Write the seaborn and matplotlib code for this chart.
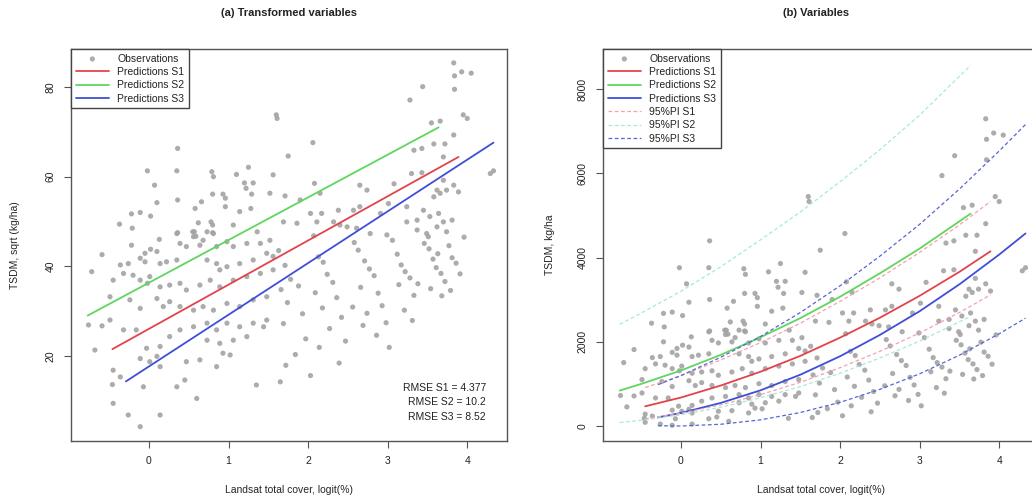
import numpy as np
import pandas as pd
import seaborn as sns
import matplotlib.pyplot as plt

# ---------------- data ----------------
obs_cover = [
    1.60, 0.36, -0.02, 0.35, 1.25, 0.79, 0.81, 0.07, 1.10, 1.20, 1.31, 1.22, 1.29, 1.56, 1.52,
    0.93, 0.96, 0.80, 0.10, 0.36, 0.66, 0.58, 0.96, 1.14, 1.28, -0.22, -0.11, 0.02, -0.37, -0.21,
    0.62, 0.78, 0.80, 1.06, 0.36, 0.55, 0.73, 0.80, 0.56, 1.36,
    -0.22, 0.13, 0.35, 0.59, 0.57, 0.68, 0.81, -0.59, -0.05, 0.02, 0.10, -0.11, -0.05, -0.72,
    -0.36, -0.26, -0.32, 0.14, 0.22, 0.35, 0.39, 0.47, 0.64, 0.85, 0.98, 1.06, 1.23, 1.40, 1.52,
    0.73, 0.85, 0.89, 0.98, 1.14, 1.31, 1.48, 1.56, -0.45, -0.20, -0.11, 0.01, -0.02, 0.14, 0.26,
    0.39, 0.47, 0.64, 0.77, 0.89, 1.06, 1.23, 1.40, 1.56, -0.49, -0.24, -0.11, 0.10, 0.26, 0.39,
    0.18, 0.56, 0.68, 0.81, 0.98, 1.14, 1.31, 1.48, -0.76, -0.59, -0.49, -0.32, -0.16, -0.03, 0.14,
    0.10, 0.26, 0.39, 0.56, 0.73, 0.85, 0.98, 1.14, 1.31, 1.48, -0.68, -0.45, -0.36, -0.11, 0.01,
    0.14, 0.47, 0.64, 0.85, 0.93, 1.02, 0.73, 0.89, 1.06, 1.23, -0.46, -0.07, 0.35, 0.45, 0.60,
    1.35, 1.65, -0.45, -0.26, 0.14, -0.11, 1.44,
    3.83, 3.93, 4.05, 3.84, 3.84, 3.44, 3.28, 1.61, 3.55, 3.66, 3.95, 4.00, 2.06, 3.83, 1.75,
    3.33, 3.43, 3.58, 3.72, 3.70, 4.29, 4.33, 2.08, 2.15, 1.71, 2.65, 2.74, 3.08, 3.30, 3.43,
    3.70, 3.83, 3.89, 3.74, 1.90, 2.03, 2.17, 2.38, 2.57, 2.65, 2.91, 3.01, 3.24, 3.45, 3.62,
    3.58, 3.66, 1.69, 1.86, 2.11, 2.32, 2.40, 2.49, 2.61, 3.24, 3.37, 3.53, 3.64, 3.70, 3.81,
    3.37, 3.49, 3.62, 3.74, 3.51, 2.78, 2.99,
    1.63, 1.71, 1.78, 1.66, 1.88, 1.74, 1.93, 1.69, 1.97, 1.84, 1.72, 2.03,
    2.07, 2.13, 2.19, 2.24, 2.31, 2.09, 2.36, 2.18, 2.42, 2.27, 2.47, 2.14, 2.39, 2.56,
    2.58, 2.63, 2.71, 2.77, 2.83, 2.66, 2.88, 2.93, 2.74, 2.98, 2.86, 3.02, 2.69,
    3.06, 3.12, 3.17, 3.22, 3.28, 3.14, 3.33, 3.21, 3.38, 3.31,
    3.46, 3.52, 3.57, 3.61, 3.67, 3.72, 3.77, 3.81, 3.86, 3.91, 3.54, 3.68, 3.96, 3.63, 3.79,
]
obs_sqrt_tsdm = [
    73.8, 66.3, 61.3, 61.3, 62.1, 61.1, 60.0, 58.1, 60.5, 58.6, 58.6, 57.4, 56.1, 60.4, 56.3,
    56.1, 55.2, 56.1, 54.2, 54.8, 54.4, 52.9, 53.3, 52.2, 52.9, 51.7, 52.0, 51.2, 49.4, 48.5,
    49.7, 49.9, 49.2, 49.2, 47.5, 47.7, 47.7, 47.5, 46.6, 47.7,
    44.7, 46.0, 47.3, 46.7, 47.7, 45.8, 47.3, 42.6, 42.9, 43.8, 43.3, 41.8, 41.0, 38.8,
    40.3, 40.6, 38.4, 40.6, 41.0, 41.4, 45.1, 44.4, 44.7, 44.4, 45.5, 44.4, 45.1, 45.1, 45.8,
    41.4, 40.6, 39.2, 39.9, 40.6, 41.4, 42.9, 42.2, 36.9, 38.0, 36.9, 37.7, 36.2, 35.4, 35.8,
    36.2, 34.7, 35.8, 36.9, 35.4, 36.9, 37.7, 38.4, 39.2, 33.2, 32.5, 30.6, 32.8, 32.1, 31.0,
    31.0, 30.2, 31.0, 30.2, 31.7, 31.0, 32.5, 33.2, 26.9, 26.7, 28.0, 25.8, 25.8, 21.7, 22.1,
    19.9, 24.3, 25.8, 26.5, 27.3, 25.8, 27.3, 26.5, 27.3, 28.0, 21.3, 16.8, 15.3, 19.4, 18.7,
    17.6, 18.7, 19.1, 17.6, 20.6, 20.2, 23.5, 22.8, 23.5, 24.3, 13.6, 13.1, 13.1, 14.6, 10.5,
    13.5, 14.2, 9.4, 6.8, 6.8, 4.2, 26.5,
    85.4, 83.4, 83.1, 82.5, 79.5, 80.1, 77.1, 73.0, 72.0, 72.4, 73.8, 73.0, 67.6, 69.3, 64.6,
    65.9, 66.3, 67.3, 67.3, 64.4, 60.7, 61.3, 58.5, 56.3, 55.7, 58.1, 57.0, 58.4, 60.7, 60.9,
    59.2, 58.1, 56.6, 57.0, 54.8, 51.8, 51.8, 52.5, 52.5, 53.3, 51.8, 54.0, 53.3, 52.5, 57.0,
    55.5, 56.3, 49.9, 49.6, 49.9, 49.9, 49.2, 48.8, 48.5, 49.9, 50.3, 51.1, 51.8, 49.9, 50.3,
    48.1, 47.3, 48.8, 47.7, 46.6, 47.3, 47.0,
    43.5, 40.2, 37.1, 34.8, 35.6, 31.9, 29.4, 27.2, 23.8, 20.3, 17.9, 15.6,
    46.8, 42.1, 40.9, 38.2, 36.4, 34.1, 33.0, 30.7, 28.6, 26.1, 23.3, 21.9, 18.4, 30.9,
    45.3, 43.6, 41.2, 39.4, 37.9, 35.3, 34.0, 31.2, 29.5, 27.4, 24.6, 21.9, 26.8,
    45.8, 42.7, 40.3, 38.8, 37.4, 35.9, 33.5, 30.2, 36.1, 27.9,
    45.1, 43.9, 41.6, 39.7, 38.4, 36.6, 44.6, 41.9, 40.7, 38.3, 35.0, 33.4, 46.5, 42.8, 34.6,
]

# Predictions, panel (a): straight lines (end points)
pa_s1_x = [-0.46, 3.89]
pa_s1_y = [21.5, 64.4]
pa_s2_x = [-0.77, 3.64]
pa_s2_y = [29.0, 71.0]
pa_s3_x = [-0.29, 4.33]
pa_s3_y = [14.3, 67.6]

# Predictions and 95% PI, panel (b), read at several covers
pb_s1_x = [-0.45, 0.0, 0.5, 1.0, 1.5, 2.0, 2.5, 3.0, 3.5, 3.89]
pb_s1_pred = [467, 676, 961, 1289, 1665, 2098, 2570, 3091, 3660, 4147]
pb_s1_up = [912, 1197, 1568, 1980, 2440, 2959, 3516, 4122, 4775, 5329]
pb_s1_lo = [169, 303, 502, 745, 1037, 1384, 1772, 2209, 2694, 3114]

pb_s2_x = [-0.77, -0.5, 0.0, 0.5, 1.0, 1.5, 2.0, 2.5, 3.0, 3.64]
pb_s2_pred = [841, 999, 1318, 1689, 2107, 2560, 3069, 3624, 4212, 5041]
pb_s2_up = [2412, 2680, 3200, 3780, 4420, 5080, 5800, 6560, 7380, 8560]
pb_s2_lo = [81, 135, 266, 445, 671, 936, 1253, 1616, 2016, 2601]

pb_s3_x = [-0.29, 0.0, 0.5, 1.0, 1.5, 2.0, 2.5, 3.0, 3.5, 4.0, 4.33]
pb_s3_pred = [204, 310, 548, 847, 1218, 1656, 2162, 2725, 3364, 4070, 4570]
pb_s3_up = [980, 1197, 1632, 2125, 2694, 3329, 4032, 4789, 5625, 6529, 7157]
pb_s3_lo = [7, 0, 41, 146, 320, 562, 870, 1239, 1681, 2190, 2560]

rmse_labels = ["RMSE S1 = 4.377", "RMSE S2 = 10.2", "RMSE S3 = 8.52"]
x_ticks = [0, 1, 2, 3, 4]
ya_ticks = [20, 40, 60, 80]
yb_ticks = [0, 2000, 4000, 6000, 8000]

# ---------------- styling ----------------
sns.set_style("ticks")
plt.rcParams['font.family'] = ['Liberation Sans', 'DejaVu Sans']
plt.rcParams['text.color'] = '#222222'

C_OBS = '#A3A3A3'
C_S1 = '#E2434B'
C_S2 = '#5FD65F'
C_S3 = '#3E4ED8'
C_PI1 = '#F2A3AC'
C_PI2 = '#A9E9D6'
C_PI3 = '#5666D4'
C_AX = '#555555'

obs = pd.DataFrame({'cover': obs_cover, 'sqrt_tsdm': obs_sqrt_tsdm})
obs['tsdm'] = obs['sqrt_tsdm'] ** 2

fig = plt.figure(figsize=(10.32, 5.04), dpi=100)
axA = fig.add_axes([0.0688, 0.125, 0.4225, 0.7778])
axB = fig.add_axes([0.5843, 0.125, 0.4225, 0.7778])

# ---- panel (a)
sns.scatterplot(data=obs, x='cover', y='sqrt_tsdm', ax=axA, color=C_OBS, s=14,
                edgecolor='none', alpha=0.9, label='Observations')
sns.lineplot(x=pa_s1_x, y=pa_s1_y, ax=axA, color=C_S1, lw=1.3, label='Predictions S1')
sns.lineplot(x=pa_s2_x, y=pa_s2_y, ax=axA, color=C_S2, lw=1.3, label='Predictions S2')
sns.lineplot(x=pa_s3_x, y=pa_s3_y, ax=axA, color=C_S3, lw=1.3, label='Predictions S3')
axA.set_xlim(-0.98, 4.5)
axA.set_ylim(1, 88.5)
axA.set_yticks(ya_ticks)

for i, t in enumerate(rmse_labels):
    axA.text(0.952, [0.135, 0.0995, 0.061][i], t, transform=axA.transAxes,
             ha='right', va='center', fontsize=7.5)

# ---- panel (b)
sns.scatterplot(data=obs, x='cover', y='tsdm', ax=axB, color=C_OBS, s=14,
                edgecolor='none', alpha=0.9, label='Observations')
sns.lineplot(x=pb_s1_x, y=pb_s1_pred, ax=axB, color=C_S1, lw=1.3, label='Predictions S1')
sns.lineplot(x=pb_s2_x, y=pb_s2_pred, ax=axB, color=C_S2, lw=1.3, label='Predictions S2')
sns.lineplot(x=pb_s3_x, y=pb_s3_pred, ax=axB, color=C_S3, lw=1.3, label='Predictions S3')
sns.lineplot(x=pb_s1_x, y=pb_s1_up, ax=axB, color=C_PI1, lw=0.9, linestyle=(0, (3, 2)), label='95%PI S1')
sns.lineplot(x=pb_s1_x, y=pb_s1_lo, ax=axB, color=C_PI1, lw=0.9, linestyle=(0, (3, 2)))
sns.lineplot(x=pb_s2_x, y=pb_s2_up, ax=axB, color=C_PI2, lw=0.9, linestyle=(0, (3, 2)), label='95%PI S2')
sns.lineplot(x=pb_s2_x, y=pb_s2_lo, ax=axB, color=C_PI2, lw=0.9, linestyle=(0, (3, 2)))
sns.lineplot(x=pb_s3_x, y=pb_s3_up, ax=axB, color=C_PI3, lw=0.9, linestyle=(0, (3, 2)), label='95%PI S3')
sns.lineplot(x=pb_s3_x, y=pb_s3_lo, ax=axB, color=C_PI3, lw=0.9, linestyle=(0, (3, 2)))
axB.set_xlim(-0.98, 4.5)
axB.set_ylim(-356, 8950)
axB.set_yticks(yb_ticks)

# ---- common axis styling
for ax, ylab, ylx in [(axA, 'TSDM, sqrt (kg/ha)', -0.128), (axB, 'TSDM, kg/ha', -0.122)]:
    ax.set_xticks(x_ticks)
    ax.tick_params(axis='both', direction='out', length=5, width=0.8, color=C_AX,
                   labelsize=7.5, labelcolor='#222222', pad=6)
    for lbl in ax.get_yticklabels():
        lbl.set_rotation(90)
        lbl.set_va('center')
    for sp in ax.spines.values():
        sp.set_visible(True)
        sp.set_color(C_AX)
        sp.set_linewidth(1.0)
    ax.set_xlabel('Landsat total cover, logit(%)', fontsize=7.5)
    ax.xaxis.set_label_coords(0.5, -(490 - 441) / 392)
    ax.xaxis.label.set_va('center')
    ax.set_ylabel(ylab, fontsize=7.5)
    ax.yaxis.set_label_coords(ylx, 0.5)
    ax.yaxis.label.set_va('center')
    h, l = ax.get_legend_handles_labels()
    leg = ax.legend(h, l, loc='upper left', bbox_to_anchor=(0, 1), borderaxespad=0,
                    frameon=True, fancybox=False, edgecolor='#444444', framealpha=1,
                    fontsize=7.5, handlelength=3.2, labelspacing=0.32, borderpad=0.45,
                    handletextpad=0.8, markerscale=1.0)
    leg.get_frame().set_linewidth(1.0)

fig.text(289 / 1032, 1 - 13 / 504, '(a) Transformed variables', ha='center', va='center',
         fontsize=8, fontweight='bold')
fig.text(816 / 1032, 1 - 13 / 504, '(b) Variables', ha='center', va='center',
         fontsize=8, fontweight='bold')

fig.savefig('out.png', dpi=100)
